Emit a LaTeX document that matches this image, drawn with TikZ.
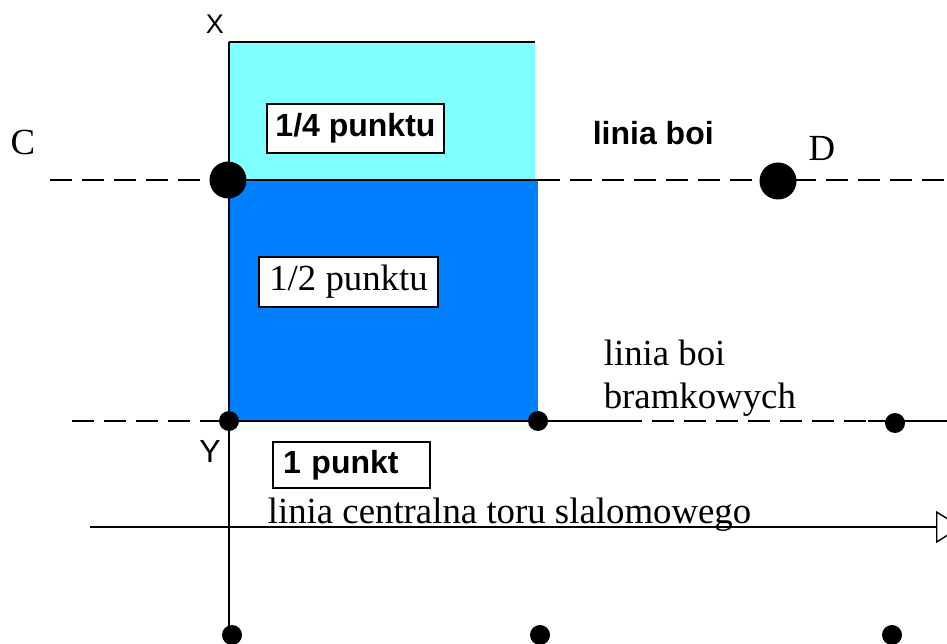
\documentclass[tikz,border=0pt]{standalone}
\usepackage{fontspec}
\setmainfont{Liberation Serif}
\newfontfamily\sansfam{Liberation Sans}
\usetikzlibrary{arrows.meta}
\definecolor{cyanfill}{HTML}{80FFFF}
\definecolor{bluefill}{HTML}{0080FF}
\begin{document}
\begin{tikzpicture}[x=1pt,y=-1pt,line width=1.6pt,
  dashln/.style={dash pattern=on 22pt off 10pt},
  lbox/.style={draw,line width=1.2pt,fill=white,inner sep=0pt},
  serifl/.style={font=\fontsize{36.8}{43}\selectfont},
  sansl/.style={font=\sansfam\bfseries\fontsize{32}{36}\selectfont},
  axl/.style={font=\sansfam\fontsize{27}{30}\selectfont,inner sep=0pt},
  bigdot/.style={circle,fill=black,inner sep=0pt,minimum size=37pt},
  smalldot/.style={circle,fill=black,inner sep=0pt,minimum size=20pt}]
\useasboundingbox (0,0) rectangle (947,644);
\clip (0,0) rectangle (947,644);
% areas
\fill[cyanfill] (229,42) rectangle (535,180);
\fill[bluefill] (229,180) rectangle (538,421);
% coordinates
\coordinate (top) at (229,42);
\coordinate (topR) at (535,42);
\coordinate (cL) at (50,180);
\coordinate (rTR) at (538,180);
\coordinate (rEnd1) at (950,180);
\coordinate (gL) at (72,421);
\coordinate (g1) at (620,421);
\coordinate (g2) at (868,421);
\coordinate (gEnd) at (950,421);
\coordinate (axL) at (90,527);
\coordinate (axR) at (962,527);
\coordinate (vBot) at (229,635);
% lines
\draw (top) -- (topR);
\draw (top) -- (vBot);
\draw[dashln] (cL) -- (229,180);
\draw (229,180) -- (rTR);
\draw[dashln] (rTR) -- (rEnd1);
\draw[dashln] (gL) -- (229,421);
\draw (229,421) -- (g1);
\draw[dashln] (g1) -- (g2);
\draw (g2) -- (gEnd);
\draw[-{Triangle[open,length=26pt,width=32pt,line width=1.4pt]}] (axL) -- (axR);
% dots
\node[bigdot] (dC) at (228,180) {};
\node[bigdot] (dD) at (778,181) {};
\node[smalldot] (s1) at (229,421) {};
\node[smalldot] (s2) at (538,421) {};
\node[smalldot] (s3) at (895,423) {};
\node[smalldot] (b1) at (232,635) {};
\node[smalldot] (b2) at (540,635) {};
\node[smalldot] (b3) at (892,635) {};
% labels
\node[axl] (X) at (215,24) {X};
\node[axl,font=\sansfam\fontsize{32}{36}\selectfont] (Y) at (210,451) {Y};
\node[serifl,anchor=base,inner sep=0pt] (C) at (23,155) {C};
\node[serifl,anchor=base,inner sep=0pt] (D) at (822,161) {D};
\node[sansl,anchor=base west,inner sep=0pt] (lb) at (592,145) {linia boi};
\node[serifl,anchor=base west,inner sep=0pt,align=left] (lbb) at (603,408) {linia boi\\bramkowych};
\node[serifl,anchor=base west,inner sep=0pt] (lc) at (267,523) {linia centralna toru slalomowego};
% boxes
\node[lbox,sansl,minimum width=177pt,minimum height=49pt] (q) at (355.5,128.5) {1/4 punktu};
\node[lbox,serifl,minimum width=179pt,minimum height=50pt] (h) at (348.5,282) {1/2 punktu};
\node[lbox,sansl,minimum height=46pt,text width=137pt,inner xsep=10pt,align=left] (o) at (351.5,465) {1 punkt};
\end{tikzpicture}
\end{document}
